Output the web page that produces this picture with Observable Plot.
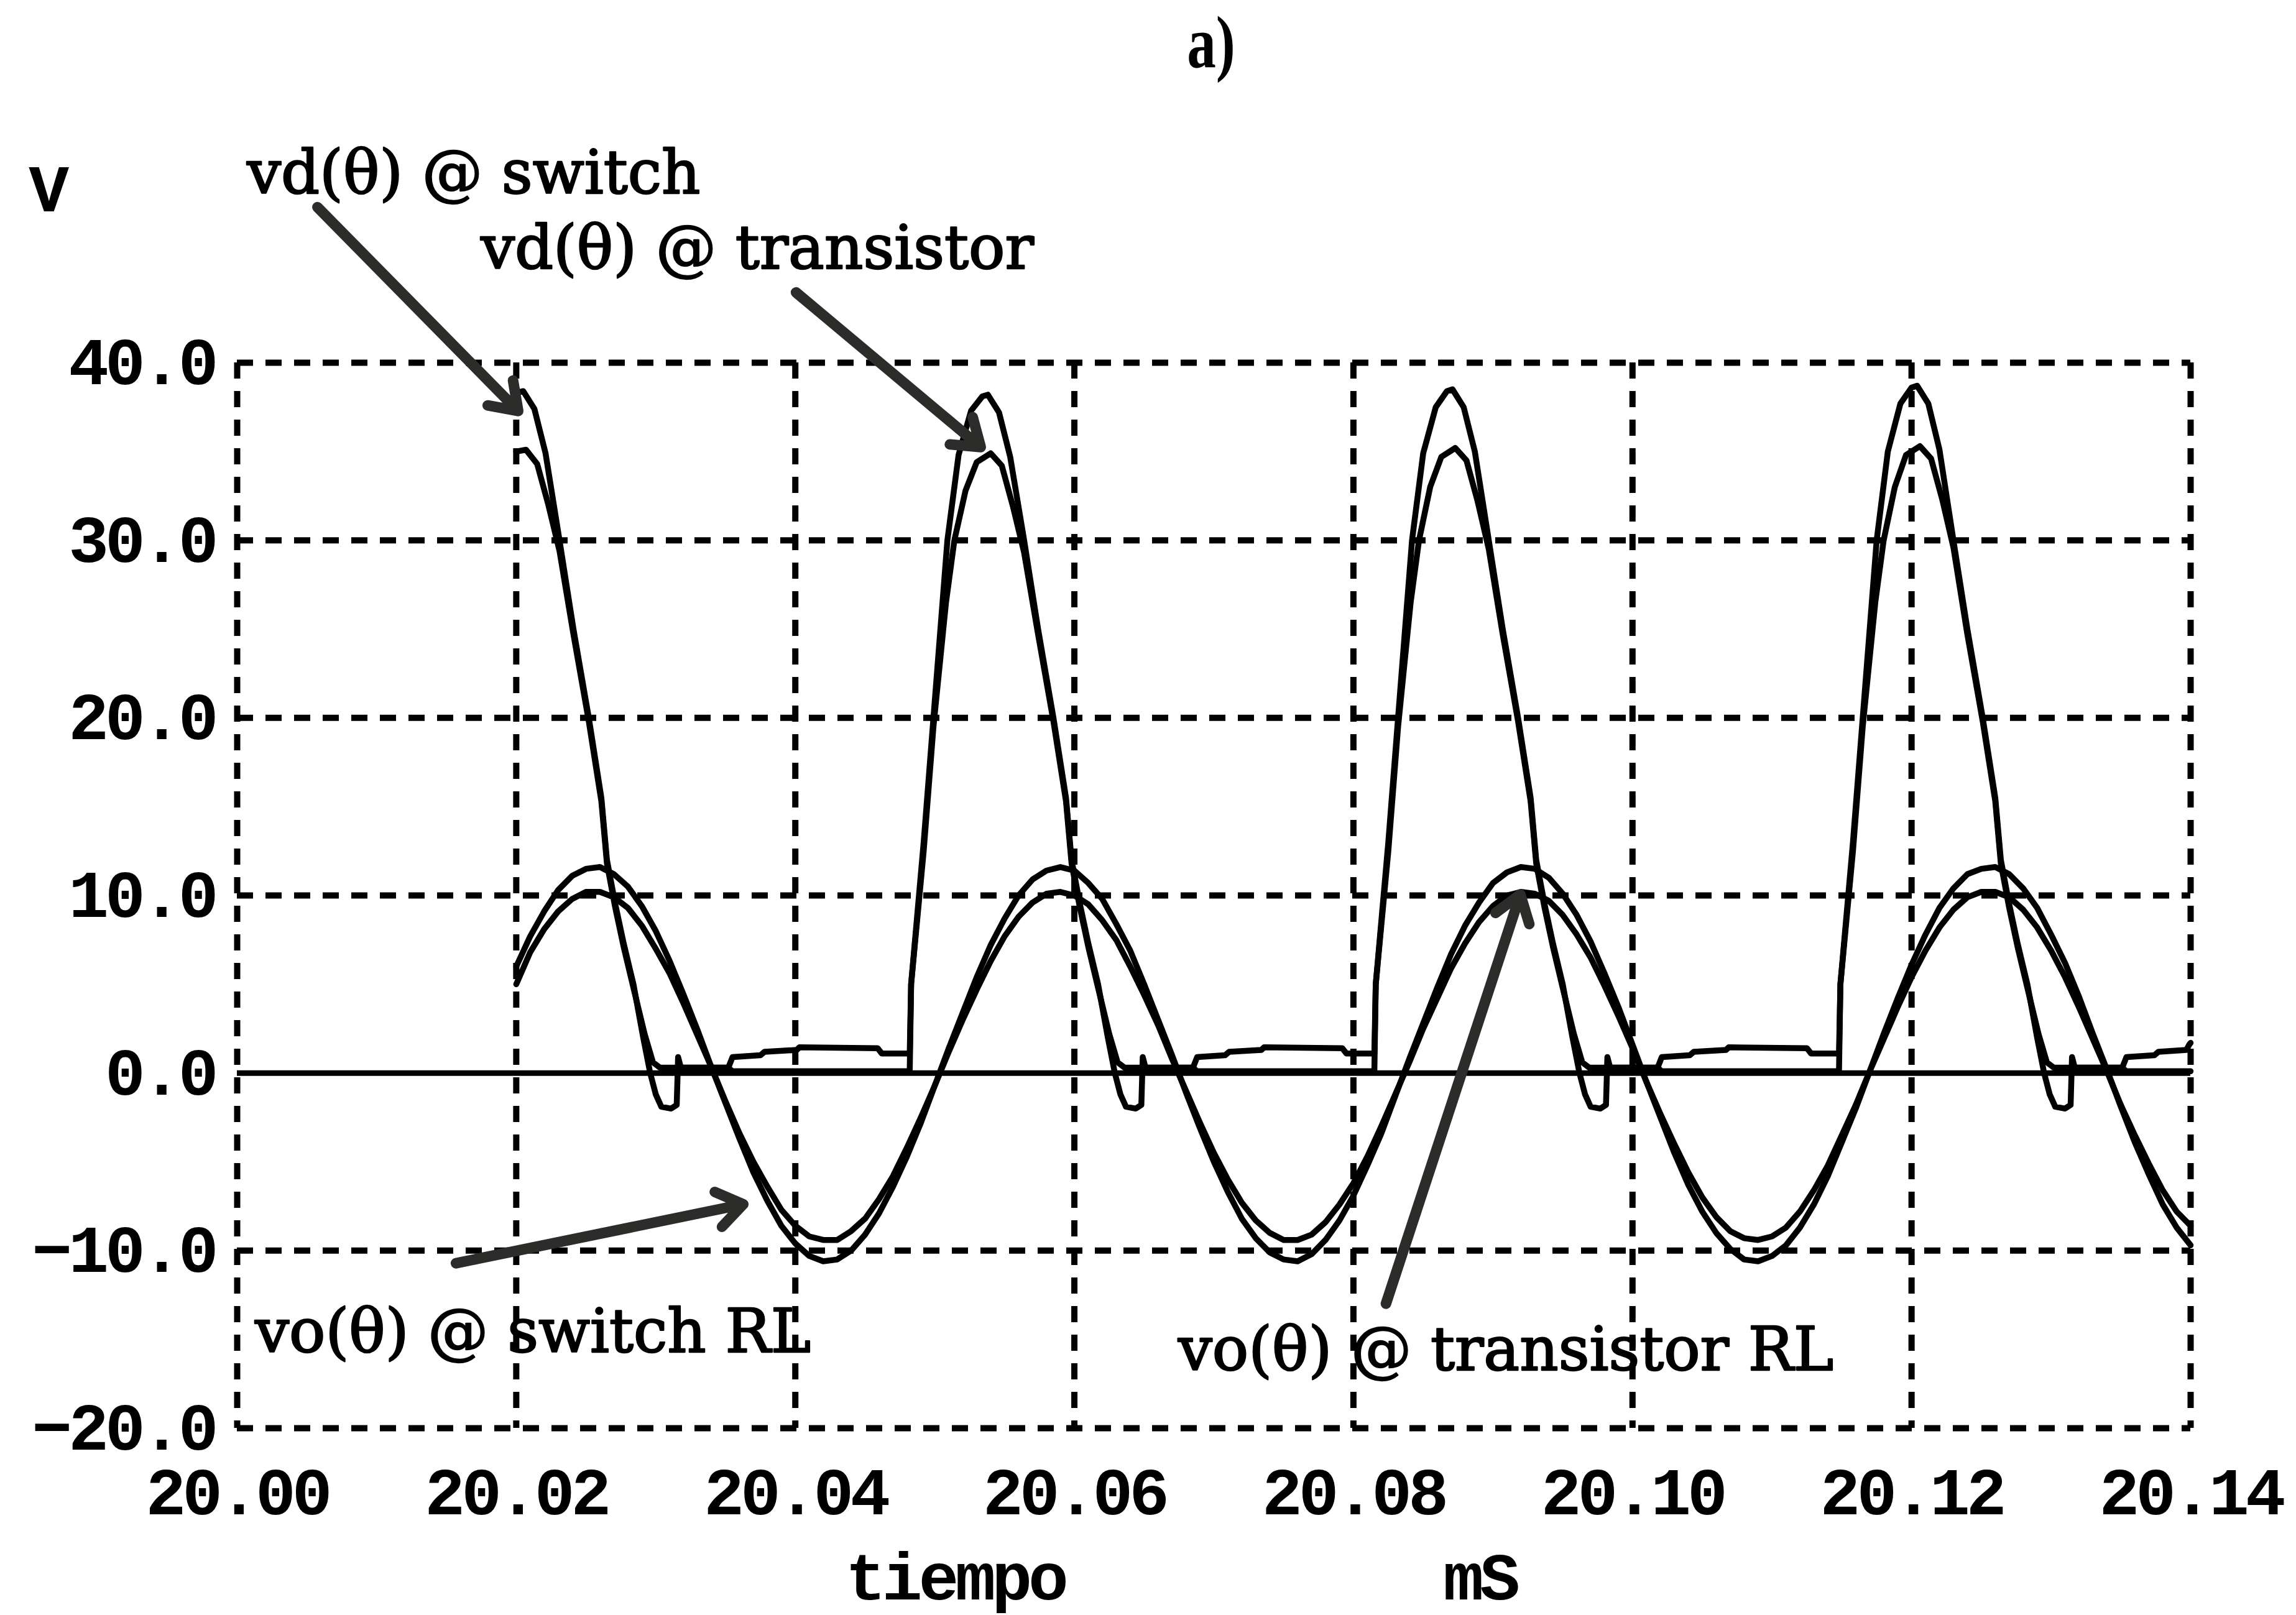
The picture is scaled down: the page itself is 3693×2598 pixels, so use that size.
<!DOCTYPE html>
<html>
<head>
<meta charset="utf-8">
<script src="https://cdn.jsdelivr.net/npm/d3@7"></script>
<script src="https://cdn.jsdelivr.net/npm/@observablehq/plot@0.6"></script>
<style>
  html, body { margin: 0; padding: 0; background: #fff; overflow: hidden; }
  #head { position: relative; width: 3693px; height: 170px; }
  #head span {
    position: absolute; left: 1948px; top: 16px;
    transform: translateX(-50%) scale(0.88, 1.12);
    font-family: "Liberation Serif"; font-weight: bold; font-size: 106px; line-height: 1;
    color: #000;
  }
  #chart svg { display: block; }
  #chart g[font-family="Liberation Mono"] { letter-spacing: -6px; }
</style>
</head>
<body>
<div id="head"><span>a)</span></div>
<div id="chart"></div>
<script>
// Axis ticks
const xTicks = [20.00, 20.02, 20.04, 20.06, 20.08, 20.10, 20.12, 20.14];
const yTicks = [-20, -10, 0, 10, 20, 30, 40];

// Output voltage on the load, sampled every 0.001 ms from 20.020 ms
const voStart = 20.020;
const voStep = 0.001;
const voSwitchRL = [
  6.0, 7.7, 9.1, 10.3, 11.1, 11.5, 11.6, 11.2, 10.5, 9.4,
  8.0, 6.3, 4.4, 2.4, 0.3, -1.7, -3.7, -5.6, -7.2, -8.6,
  -9.6, -10.3, -10.6, -10.5, -10.0, -9.1, -7.9, -6.4, -4.7, -2.8,
  -0.7, 1.4, 3.4, 5.4, 7.2, 8.7, 10.0, 10.9, 11.4, 11.6,
  11.4, 10.7, 9.8, 8.4, 6.9, 5.0, 3.0, 1.0, -1.1, -3.1,
  -5.0, -6.7, -8.2, -9.3, -10.1, -10.5, -10.6, -10.2, -9.4, -8.3,
  -6.9, -5.2, -3.4, -1.3, 0.8, 2.8, 4.8, 6.7, 8.3, 9.6,
  10.7, 11.3, 11.6, 11.5, 11.0, 10.1, 8.9, 7.4, 5.6, 3.7,
  1.6, -0.5, -2.5, -4.5, -6.3, -7.8, -9.0, -9.9, -10.5, -10.6,
  -10.3, -9.7, -8.7, -7.4, -5.8, -3.9, -2.0, 0.1, 2.2, 4.2,
  6.1, 7.8, 9.3, 10.4, 11.2, 11.5, 11.6, 11.2, 10.4, 9.3,
  7.8, 6.2, 4.3, 2.2, 0.2, -1.9, -3.9, -5.7, -7.4, -8.7,
  -9.7
];
const voTransistorRL = [
  5.0, 6.8, 8.1, 9.1, 9.8, 10.2, 10.2, 9.9, 9.3, 8.3,
  7.0, 5.6, 3.9, 2.1, 0.3, -1.6, -3.4, -5.0, -6.4, -7.7,
  -8.6, -9.2, -9.4, -9.4, -8.9, -8.2, -7.1, -5.8, -4.2, -2.5,
  -0.7, 1.2, 3.0, 4.7, 6.3, 7.7, 8.8, 9.6, 10.1, 10.2,
  10.0, 9.5, 8.6, 7.5, 6.0, 4.4, 2.7, 0.8, -1.0, -2.8,
  -4.5, -6.0, -7.3, -8.3, -9.0, -9.4, -9.4, -9.1, -8.4, -7.4,
  -6.2, -4.7, -3.0, -1.2, 0.6, 2.5, 4.2, 5.9, 7.3, 8.5,
  9.4, 10.0, 10.2, 10.1, 9.7, 8.9, 7.8, 6.5, 4.9, 3.2,
  1.4, -0.5, -2.3, -4.0, -5.6, -7.0, -8.1, -8.9, -9.3, -9.4,
  -9.2, -8.7, -7.8, -6.6, -5.2, -3.5, -1.8, 0.1, 1.9, 3.7,
  5.4, 6.9, 8.2, 9.2, 9.9, 10.2, 10.2, 9.9, 9.2, 8.2,
  6.9, 5.4, 3.7, 1.9, 0.1, -1.8, -3.5, -5.1, -6.6, -7.8,
  -8.6
];

// Voltage across the switch (ideal switch): time (ms) and volts
const vdSwitchTime = [
  20.0200, 20.0205, 20.0213, 20.0221, 20.0231, 20.0241, 20.0252, 20.0261, 20.0265, 20.0271,
  20.0277, 20.0284, 20.0291, 20.0296, 20.0300, 20.0304, 20.0311, 20.0315, 20.0316, 20.0318,
  20.0352, 20.0355, 20.0482,
  20.0483, 20.0492, 20.0499, 20.0509, 20.0517, 20.0526, 20.0534, 20.0538, 20.0546, 20.0554,
  20.0564, 20.0574, 20.0585, 20.0594, 20.0598, 20.0604, 20.0610, 20.0617, 20.0624, 20.0629,
  20.0633, 20.0637, 20.0644, 20.0648, 20.0649, 20.0651, 20.0685, 20.0688, 20.0815,
  20.0816, 20.0825, 20.0832, 20.0842, 20.0850, 20.0859, 20.0867, 20.0871, 20.0879, 20.0887,
  20.0897, 20.0907, 20.0918, 20.0927, 20.0931, 20.0937, 20.0943, 20.0950, 20.0957, 20.0962,
  20.0966, 20.0970, 20.0977, 20.0981, 20.0982, 20.0984, 20.1018, 20.1021, 20.1148,
  20.1149, 20.1158, 20.1165, 20.1175, 20.1183, 20.1192, 20.1200, 20.1204, 20.1212, 20.1220,
  20.1230, 20.1240, 20.1251, 20.1260, 20.1264, 20.1270, 20.1276, 20.1283, 20.1290, 20.1295,
  20.1299, 20.1303, 20.1310, 20.1314, 20.1315, 20.1317, 20.1351, 20.1354, 20.1400
];
const vdSwitch = [
  38.3, 38.4, 37.4, 34.9, 30.0, 25.0, 20.0, 15.5, 12.0, 9.5,
  7.3, 5.0, 2.0, 0.0, -1.2, -1.9, -2.0, -1.8, 0.9, 0.3,
  0.3, 0.1, 0.1,
  5.0, 13.0, 20.0, 30.0, 34.8, 37.3, 38.1, 38.2, 37.2, 34.7,
  30.0, 25.0, 20.0, 15.5, 12.0, 9.5, 7.3, 5.0, 2.0, 0.0,
  -1.2, -1.9, -2.0, -1.8, 0.9, 0.3, 0.3, 0.1, 0.1,
  5.0, 13.0, 20.0, 30.0, 34.9, 37.5, 38.4, 38.5, 37.5, 35.0,
  30.0, 25.0, 20.0, 15.5, 12.0, 9.5, 7.3, 5.0, 2.0, 0.0,
  -1.2, -1.9, -2.0, -1.8, 0.9, 0.3, 0.3, 0.1, 0.1,
  5.0, 13.0, 20.0, 30.0, 35.0, 37.7, 38.6, 38.7, 37.7, 35.1,
  30.0, 25.0, 20.0, 15.5, 12.0, 9.5, 7.3, 5.0, 2.0, 0.0,
  -1.2, -1.9, -2.0, -1.8, 0.9, 0.3, 0.3, 0.1, 0.1
];

// Voltage across the transistor: time (ms) and volts
const vdTransistorTime = [
  20.0200, 20.0207, 20.0215, 20.0223, 20.0231, 20.0241, 20.0252, 20.0261, 20.0265, 20.0271,
  20.0277, 20.0284, 20.0292, 20.0298, 20.0303, 20.0352, 20.0355, 20.0375, 20.0378, 20.0401,
  20.0403, 20.0459, 20.0462, 20.0482,
  20.0483, 20.0492, 20.0499, 20.0508, 20.0514, 20.0522, 20.0530, 20.0540, 20.0548, 20.0556,
  20.0564, 20.0574, 20.0585, 20.0594, 20.0598, 20.0604, 20.0610, 20.0617, 20.0625, 20.0631,
  20.0636, 20.0685, 20.0688, 20.0708, 20.0711, 20.0734, 20.0736, 20.0792, 20.0795, 20.0815,
  20.0816, 20.0825, 20.0832, 20.0841, 20.0847, 20.0855, 20.0863, 20.0873, 20.0881, 20.0889,
  20.0897, 20.0907, 20.0918, 20.0927, 20.0931, 20.0937, 20.0943, 20.0950, 20.0958, 20.0964,
  20.0969, 20.1018, 20.1021, 20.1041, 20.1044, 20.1067, 20.1069, 20.1125, 20.1128, 20.1148,
  20.1149, 20.1158, 20.1165, 20.1174, 20.1180, 20.1188, 20.1196, 20.1206, 20.1214, 20.1222,
  20.1230, 20.1240, 20.1251, 20.1260, 20.1264, 20.1270, 20.1276, 20.1283, 20.1291, 20.1297,
  20.1302, 20.1351, 20.1354, 20.1374, 20.1377, 20.1397, 20.1399, 20.1400
];
const vdTransistor = [
  35.0, 35.1, 34.3, 32.0, 29.4, 24.7, 19.8, 15.3, 11.8, 9.3,
  7.1, 4.8, 2.2, 0.6, 0.3, 0.3, 0.9, 1.0, 1.2, 1.3,
  1.45, 1.4, 1.1, 1.1,
  5.0, 12.5, 19.5, 26.5, 30.0, 32.8, 34.4, 34.9, 34.2, 31.9,
  29.3, 24.7, 19.8, 15.3, 11.8, 9.3, 7.1, 4.8, 2.2, 0.6,
  0.3, 0.3, 0.9, 1.0, 1.2, 1.3, 1.45, 1.4, 1.1, 1.1,
  5.0, 12.5, 19.5, 26.5, 30.0, 33.0, 34.7, 35.2, 34.5, 32.2,
  29.5, 24.7, 19.8, 15.3, 11.8, 9.3, 7.1, 4.8, 2.2, 0.6,
  0.3, 0.3, 0.9, 1.0, 1.2, 1.3, 1.45, 1.4, 1.1, 1.1,
  5.0, 12.5, 19.5, 26.5, 30.0, 33.0, 34.8, 35.3, 34.6, 32.3,
  29.6, 24.7, 19.8, 15.3, 11.8, 9.3, 7.1, 4.8, 2.2, 0.6,
  0.3, 0.3, 0.9, 1.0, 1.2, 1.3, 1.6, 1.7
];

// Callouts: label text, label anchor (ms, V) and arrow from/to (ms, V)
const calloutText = ["vd(θ) @ switch", "vd(θ) @ transistor", "vo(θ) @ switch RL", "vo(θ) @ transistor RL"];
const calloutLabelT = [20.0007, 20.01745, 20.00128, 20.06744];
const calloutLabelV = [50.61, 46.38, -14.63, -15.65];
const arrowFromT = [20.00575, 20.04005, 20.01568, 20.08233];
const arrowFromV = [48.76, 43.96, -10.71, -12.99];
const arrowToT = [20.02014, 20.05329, 20.03627, 20.09196];
const arrowToV = [37.28, 35.25, -7.39, 10.06];

// Unit and axis captions placed around the frame (ms, V)
const captionText = ["V", "tiempo", "mS"];
const captionT = [19.98637, 20.05146, 20.08906];
const captionV = [49.74, -28.42, -28.42];

// Rows for the marks
const rows = (name, ts, vs) => vs.map((v, i) => ({name, t: ts[i], v}));
const voTime = voSwitchRL.map((_, i) => +(voStart + i * voStep).toFixed(3));
const lines = [
  ...rows("vd switch", vdSwitchTime, vdSwitch),
  ...rows("vd transistor", vdTransistorTime, vdTransistor),
  ...rows("vo switch RL", voTime, voSwitchRL),
  ...rows("vo transistor RL", voTime, voTransistorRL)
];
const callouts = calloutText.map((text, i) => ({
  text, t: calloutLabelT[i], v: calloutLabelV[i],
  t1: arrowFromT[i], v1: arrowFromV[i], t2: arrowToT[i], v2: arrowToV[i]
}));
const captions = captionText.map((text, i) => ({text, t: captionT[i], v: captionV[i]}));

const mono = {fontFamily: "Liberation Mono", fontWeight: "bold", fontSize: 108};
const dashed = {stroke: "#000", strokeOpacity: 1, strokeWidth: 10, strokeDasharray: "26,20"};

const chart = Plot.plot({
  width: 3693,
  height: 2428,
  marginTop: 413,
  marginRight: 170,
  marginBottom: 301,
  marginLeft: 381,
  style: {background: "#fff", color: "#000", overflow: "visible"},
  x: {domain: [20.0, 20.14]},
  y: {domain: [-20, 40]},
  marks: [
    Plot.gridX(xTicks, dashed),
    Plot.gridY(yTicks.filter((d) => d !== 0), dashed),
    Plot.ruleY([0], {stroke: "#000", strokeWidth: 9}),
    Plot.line(lines, {x: "t", y: "v", z: "name", stroke: "#000", strokeWidth: 9.5, strokeLinejoin: "round"}),
    Plot.axisX({ticks: xTicks, tickSize: 0, tickPadding: 62, tickFormat: d3.format(".2f"), label: null, ...mono}),
    Plot.axisY({ticks: yTicks, tickSize: 0, tickPadding: 36, tickFormat: d3.format(".1f"), label: null, ...mono}),
    Plot.arrow(callouts, {x1: "t1", y1: "v1", x2: "t2", y2: "v2", stroke: "#2c2c2a", strokeWidth: 17, headLength: 4.4, headAngle: 70}),
    Plot.text(callouts, {x: "t", y: "v", text: "text", textAnchor: "start", lineAnchor: "middle",
      fontFamily: "DejaVu Serif", fontSize: 97, fill: "#000", stroke: "#000", strokeWidth: 2.5}),
    Plot.text(captions, {x: "t", y: "v", text: "text", textAnchor: "middle", lineAnchor: "middle", fill: "#000", ...mono})
  ]
});

document.getElementById("chart").appendChild(chart);
</script>
</body>
</html>
